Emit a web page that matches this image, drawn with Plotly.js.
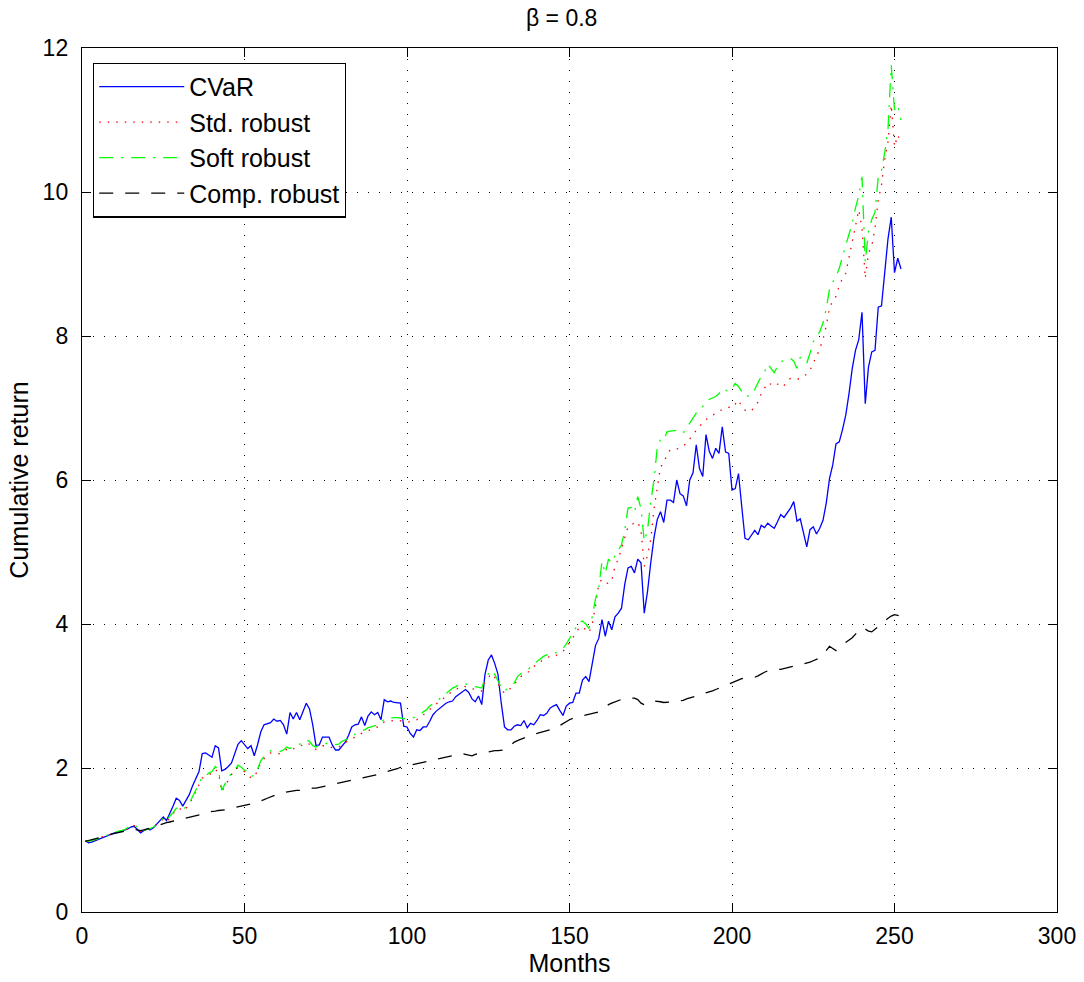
<!DOCTYPE html>
<html>
<head>
<meta charset="utf-8">
<script src="https://cdn.plot.ly/plotly-3.0.1.min.js"></script>
<style>html,body{margin:0;padding:0;background:#fff;}#chart{width:1084px;height:982px;}</style>
</head>
<body>
<div id="chart"></div>
<script>
var seriesNames = ["CVaR", "Std. robust", "Soft robust", "Comp. robust"];
var xTicks = [0, 50, 100, 150, 200, 250, 300];
var yTicks = [0, 2, 4, 6, 8, 10, 12];

var cvar = [0.99,0.96,0.97,0.99,1.00,1.02,1.05,1.07,1.08,1.10,1.11,1.12,1.13,1.15,1.18,1.19,1.15,1.10,1.13,1.15,
1.14,1.17,1.22,1.27,1.32,1.27,1.36,1.47,1.58,1.55,1.47,1.55,1.63,1.75,1.85,1.95,2.20,2.21,2.18,2.15,
2.31,2.28,1.96,1.98,2.02,2.07,2.20,2.33,2.38,2.33,2.27,2.31,2.17,2.32,2.50,2.60,2.62,2.63,2.68,2.65,
2.66,2.60,2.47,2.77,2.68,2.77,2.67,2.80,2.90,2.82,2.60,2.31,2.32,2.43,2.43,2.43,2.32,2.25,2.25,2.31,
2.36,2.45,2.57,2.60,2.61,2.71,2.59,2.72,2.78,2.74,2.77,2.67,2.95,2.92,2.93,2.91,2.91,2.90,2.58,2.57,
2.48,2.43,2.53,2.52,2.57,2.57,2.65,2.74,2.79,2.83,2.87,2.90,2.92,2.93,2.99,3.02,3.05,3.09,3.05,2.96,
2.92,3.00,2.88,3.30,3.50,3.57,3.45,3.30,2.90,2.57,2.53,2.53,2.58,2.60,2.59,2.66,2.56,2.62,2.60,2.66,
2.74,2.73,2.76,2.83,2.86,2.88,2.80,2.73,2.86,2.90,2.91,3.04,3.04,3.22,3.27,3.20,3.45,3.70,3.80,4.06,
3.83,4.04,3.92,4.10,4.15,4.22,4.55,4.78,4.80,4.71,4.90,4.85,4.15,4.45,4.85,5.20,5.45,5.56,5.41,5.72,
5.72,5.69,6.00,5.81,5.78,5.64,6.00,6.10,6.49,6.16,6.05,6.63,6.40,6.30,6.44,6.37,6.74,6.39,6.37,5.86,
5.88,6.09,5.63,5.19,5.17,5.24,5.30,5.24,5.37,5.34,5.40,5.36,5.33,5.42,5.52,5.48,5.55,5.61,5.70,5.43,
5.46,5.25,5.07,5.31,5.35,5.25,5.33,5.44,5.68,6.02,6.21,6.50,6.53,6.70,6.90,7.20,7.55,7.80,7.95,8.33,
7.06,7.57,7.78,7.80,8.40,8.42,8.90,9.35,9.65,8.88,9.08,8.93];

var stdRobust = [0.99,0.98,0.99,1.00,1.02,1.04,1.05,1.07,1.08,1.10,1.12,1.13,1.14,1.16,1.19,1.20,1.17,1.12,1.13,1.15,
1.16,1.18,1.22,1.26,1.29,1.25,1.31,1.36,1.42,1.44,1.40,1.44,1.50,1.58,1.67,1.77,1.86,1.88,1.91,1.93,
1.98,1.94,1.67,1.75,1.84,1.91,1.96,2.01,1.98,1.95,1.92,1.86,1.88,1.96,2.07,2.13,2.17,2.21,2.20,2.20,
2.20,2.22,2.26,2.24,2.27,2.29,2.30,2.33,2.35,2.33,2.28,2.26,2.29,2.31,2.30,2.30,2.28,2.28,2.29,2.33,
2.35,2.37,2.40,2.43,2.46,2.48,2.50,2.52,2.54,2.55,2.57,2.59,2.64,2.65,2.66,2.66,2.66,2.66,2.65,2.64,
2.64,2.66,2.67,2.70,2.74,2.77,2.82,2.86,2.89,2.92,2.96,2.99,3.03,3.07,3.09,3.12,3.14,3.13,3.11,3.10,
3.09,3.08,3.07,3.20,3.26,3.31,3.26,3.17,3.09,3.04,3.07,3.11,3.15,3.23,3.27,3.29,3.32,3.36,3.41,3.44,
3.48,3.51,3.53,3.55,3.54,3.57,3.60,3.62,3.67,3.74,3.82,3.88,3.95,3.96,3.92,3.88,4.00,4.25,4.56,4.62,
4.58,4.56,4.60,4.80,4.90,5.05,5.19,5.35,5.38,5.40,5.42,5.30,4.80,4.95,5.17,5.60,5.90,6.18,6.24,6.35,
6.42,6.43,6.44,6.44,6.47,6.51,6.57,6.63,6.70,6.75,6.79,6.84,6.88,6.90,6.93,6.96,6.98,7.00,7.01,7.00,
7.05,7.11,7.02,6.97,6.95,6.96,7.03,7.08,7.20,7.28,7.35,7.33,7.30,7.33,7.35,7.31,7.38,7.41,7.40,7.40,
7.41,7.44,7.47,7.52,7.63,7.71,7.82,7.95,8.14,8.40,8.48,8.55,8.70,8.80,8.87,9.10,9.31,9.55,9.75,9.50,
8.80,9.15,9.25,9.50,9.89,10.10,10.45,10.70,11.21,10.63,10.79,10.68];

var softRobust = [0.99,0.98,0.99,1.00,1.02,1.04,1.05,1.07,1.09,1.11,1.12,1.13,1.14,1.17,1.20,1.21,1.18,1.12,1.13,1.15,
1.16,1.18,1.22,1.26,1.30,1.26,1.33,1.38,1.44,1.45,1.42,1.46,1.51,1.60,1.70,1.79,1.88,1.89,1.93,1.95,
2.02,1.98,1.69,1.78,1.86,1.93,1.98,2.04,2.01,1.97,1.95,1.88,1.90,1.98,2.10,2.16,2.20,2.24,2.23,2.23,
2.23,2.25,2.29,2.27,2.30,2.32,2.33,2.36,2.39,2.37,2.31,2.29,2.32,2.35,2.34,2.34,2.32,2.32,2.33,2.37,
2.39,2.41,2.43,2.47,2.50,2.52,2.53,2.56,2.57,2.58,2.60,2.62,2.68,2.69,2.70,2.70,2.70,2.69,2.69,2.68,
2.68,2.70,2.71,2.74,2.78,2.81,2.86,2.90,2.93,2.96,3.00,3.03,3.07,3.11,3.13,3.16,3.18,3.17,3.15,3.14,
3.13,3.12,3.11,3.25,3.30,3.36,3.30,3.20,3.12,3.07,3.10,3.14,3.18,3.27,3.31,3.33,3.36,3.40,3.45,3.48,
3.52,3.55,3.57,3.59,3.58,3.61,3.64,3.66,3.72,3.80,3.88,3.95,4.03,4.04,4.00,3.94,4.10,4.35,4.50,4.87,
4.70,4.90,4.85,4.95,5.02,5.10,5.30,5.61,5.62,5.55,5.77,5.60,5.15,5.30,5.70,6.00,6.45,6.56,6.55,6.67,
6.68,6.68,6.69,6.67,6.65,6.72,6.79,6.86,6.93,6.98,7.02,7.10,7.12,7.14,7.16,7.20,7.27,7.25,7.23,7.28,
7.34,7.30,7.22,7.16,7.17,7.18,7.26,7.35,7.44,7.50,7.61,7.55,7.49,7.58,7.64,7.66,7.67,7.69,7.65,7.55,
7.70,7.66,7.62,7.76,7.92,7.99,8.06,8.18,8.38,8.65,8.75,8.82,8.94,9.10,9.25,9.43,9.57,9.78,9.95,10.21,
9.03,9.45,9.62,9.72,10.21,10.30,10.55,10.88,11.76,11.14,11.21,11.00];

var compRobust = [0.98,0.99,1.00,1.02,1.03,1.04,1.06,1.07,1.08,1.09,1.10,1.11,1.12,1.13,1.14,1.15,1.14,1.13,1.14,1.15,
1.16,1.17,1.19,1.21,1.23,1.24,1.25,1.26,1.27,1.28,1.29,1.30,1.31,1.32,1.33,1.34,1.36,1.37,1.39,1.39,
1.40,1.41,1.41,1.42,1.43,1.44,1.45,1.46,1.46,1.47,1.48,1.50,1.51,1.53,1.54,1.56,1.58,1.60,1.62,1.64,
1.65,1.66,1.67,1.67,1.68,1.69,1.69,1.70,1.71,1.71,1.72,1.72,1.73,1.74,1.74,1.75,1.76,1.77,1.78,1.79,
1.80,1.81,1.83,1.84,1.85,1.86,1.87,1.88,1.89,1.90,1.91,1.92,1.94,1.95,1.97,1.98,1.99,2.01,2.02,2.03,
2.04,2.05,2.06,2.07,2.08,2.09,2.10,2.10,2.11,2.12,2.13,2.14,2.15,2.16,2.18,2.19,2.20,2.19,2.18,2.17,
2.19,2.20,2.21,2.22,2.23,2.23,2.24,2.24,2.25,2.25,2.28,2.32,2.36,2.38,2.40,2.42,2.43,2.45,2.47,2.48,
2.49,2.50,2.52,2.53,2.55,2.56,2.59,2.62,2.64,2.67,2.69,2.70,2.71,2.72,2.73,2.74,2.76,2.77,2.78,2.81,
2.85,2.88,2.90,2.92,2.94,2.96,2.97,2.97,2.97,2.97,2.95,2.90,2.88,2.91,2.93,2.93,2.93,2.92,2.91,2.91,
2.91,2.92,2.93,2.93,2.94,2.96,2.97,2.98,3.00,3.01,3.03,3.04,3.06,3.07,3.09,3.11,3.13,3.15,3.17,3.19,
3.21,3.23,3.24,3.25,3.25,3.26,3.26,3.28,3.31,3.33,3.35,3.36,3.36,3.37,3.37,3.38,3.39,3.41,3.42,3.43,
3.43,3.44,3.45,3.47,3.49,3.51,3.53,3.57,3.63,3.69,3.66,3.63,3.68,3.71,3.74,3.78,3.81,3.86,3.91,3.95,
3.93,3.90,3.89,3.93,3.97,4.01,4.04,4.08,4.11,4.13,4.12,4.11];

function monthsFor(arr) { return arr.map(function (_, i) { return i + 1; }); }

var styles = [
  {color: "#0000ff", dash: "solid", width: 1.3},
  {color: "#ff0000", dash: "1.5px,7px", width: 1.3},
  {color: "#00ff00", dash: "14px,8px,2px,8px", width: 1.3},
  {color: "#000000", dash: "14px,12px", width: 1.3}
];
var seriesData = [cvar, stdRobust, softRobust, compRobust];

var traces = seriesData.map(function (vals, k) {
  return {
    x: monthsFor(vals), y: vals, type: "scatter", mode: "lines", name: seriesNames[k],
    line: {color: styles[k].color, dash: styles[k].dash, width: styles[k].width}
  };
});

var family = "Liberation Sans, Arial, sans-serif";
var tickFont = {family: family, size: 23, color: "#000"};
var labelFont = {family: family, size: 25, color: "#000"};
var axisCommon = {
  showline: true, linecolor: "#000", linewidth: 1.2, mirror: "ticks",
  ticks: "inside", ticklen: 9, tickcolor: "#000", tickwidth: 1,
  showgrid: true, gridcolor: "#000", gridwidth: 1, griddash: "1px,10px",
  zeroline: false, tickfont: tickFont
};

var layout = {
  width: 1084, height: 982,
  margin: {l: 82, r: 27, t: 48, b: 70},
  paper_bgcolor: "#fff", plot_bgcolor: "#fff",
  font: tickFont,
  title: {text: "β = 0.8", font: {family: family, size: 23, color: "#000"}, x: 0.492, xref: "paper", xanchor: "center", y: 0.982, yref: "container", yanchor: "middle"},
  xaxis: Object.assign({}, axisCommon, {range: [0, 300], tickvals: xTicks, ticktext: xTicks.map(String), ticklabelstandoff: 3,
    title: {text: "Months", font: labelFont, standoff: 0}}),
  yaxis: Object.assign({}, axisCommon, {range: [0, 12], tickvals: yTicks, ticktext: yTicks.map(String), ticklabelstandoff: 8,
    title: {text: "Cumulative return", font: labelFont, standoff: 6}}),
  showlegend: true,
  legend: {x: 0.0113, y: 0.983, xanchor: "left", yanchor: "top", bgcolor: "#fff", bordercolor: "#000", borderwidth: 1.2,
    font: labelFont, tracegroupgap: 0, itemwidth: 85}
};

Plotly.newPlot("chart", traces, layout, {displayModeBar: false, staticPlot: true});
</script>
</body>
</html>
